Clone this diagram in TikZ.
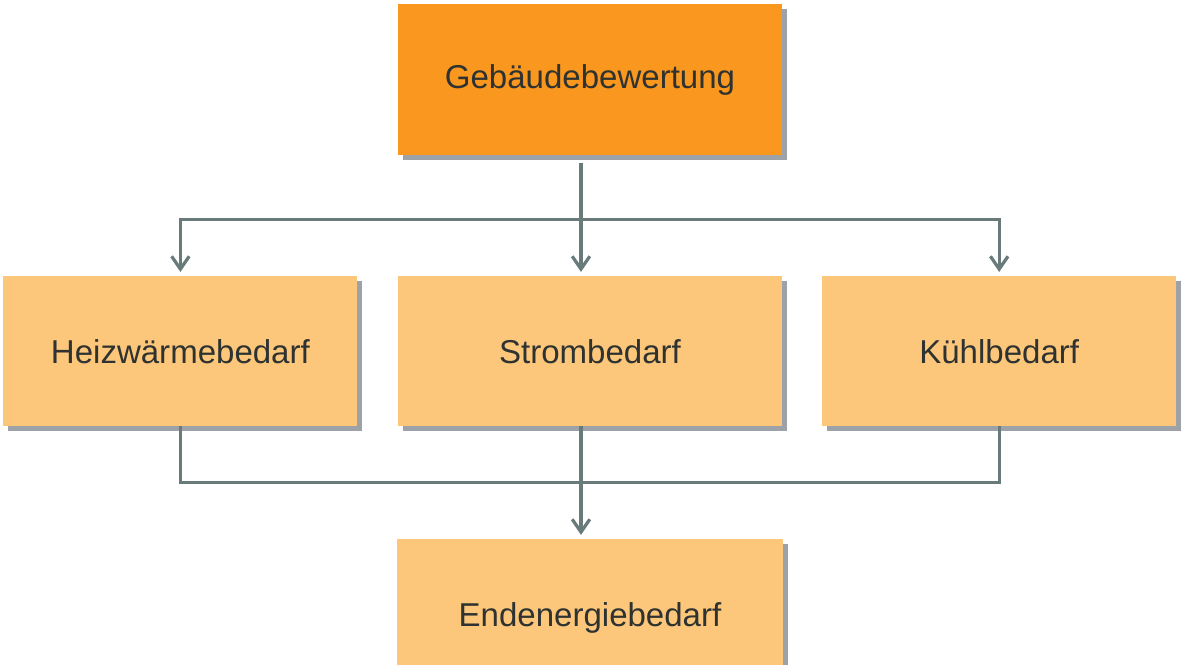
\documentclass[tikz,border=0pt]{standalone}
\usepackage{fontspec}
\setmainfont{Liberation Sans}
\usetikzlibrary{arrows.meta,positioning,shadows}

\definecolor{darkorange}{RGB}{249,151,30}
\definecolor{lightorange}{RGB}{252,199,122}
\definecolor{linkgray}{RGB}{104,122,122}
\definecolor{textgray}{RGB}{46,50,48}
\definecolor{shadowgray}{RGB}{90,100,110}

\begin{document}
\begin{tikzpicture}[on grid,
    box/.style={rectangle,fill=lightorange,inner sep=0pt,minimum width=8.85cm,minimum height=3.75cm,
      text=textgray,font=\fontsize{23.5}{28}\selectfont,
      drop shadow={shadow xshift=0.12cm,shadow yshift=-0.12cm,opacity=0.6,fill=shadowgray}},
    link/.style={draw=linkgray,line width=2.3pt},
    tip/.style={-{Straight Barb[length=3.2mm,width=4.4mm]},shorten >=0.1cm}]
  \useasboundingbox (0,0) rectangle (29.725,-16.625);
  \node[box,fill=darkorange,minimum width=9.6cm,minimum height=3.775cm] (top) at (14.75,-1.99) {Gebäudebewertung};
  \node[box,minimum width=9.6cm] (strom) [below=6.79cm of top] {Strombedarf};
  \node[box] (heiz) [left=10.24cm of strom] {Heizwärmebedarf};
  \node[box] (kuehl) [right=10.23cm of strom] {Kühlbedarf};
  \node[box,minimum width=9.65cm,minimum height=3.95cm] (enden) [below=6.675cm of strom] {Endenergiebedarf};
  % verteilung
  \coordinate (split) at ([xshift=-2.25mm,yshift=-1.6cm]top.south);
  \draw[link,tip,shorten <=0.18cm] ([xshift=-2.25mm]top.south) -- ([xshift=-2.25mm]strom.north);
  \draw[link,tip] (split) -| (heiz.north);
  \draw[link,tip] (split) -| (kuehl.north);
  % zusammenfuehrung
  \draw[link] (heiz.south) -- ++(0,-1.4) -| (kuehl.south);
  \draw[link,tip] ([xshift=-2.25mm]strom.south) -- ([xshift=-2.25mm]enden.north);
\end{tikzpicture}
\end{document}
